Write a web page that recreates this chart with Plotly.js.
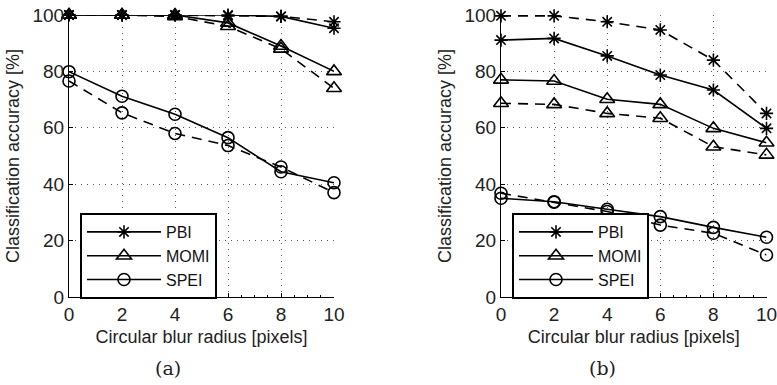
<!DOCTYPE html>
<html>
<head>
<meta charset="utf-8">
<script src="https://cdn.plot.ly/plotly-3.0.1.min.js"></script>
<style>html,body{margin:0;padding:0;background:#fff;}#chart{width:777px;height:385px;}</style>
</head>
<body>
<div id="chart"></div>
<script>
const radius = [0, 2, 4, 6, 8, 10];
const methods = ["PBI", "MOMI", "SPEI"];

// Panel (a)
const pbiA_solid   = [100, 100, 100, 100, 99.5, 95.3];
const pbiA_dashed  = [100, 100, 100, 99.7, 99.5, 97.6];
const momiA_solid  = [100, 100, 100, 97.2, 89, 80];
const momiA_dashed = [100, 100, 99.5, 96, 88, 74];
const speiA_solid  = [79.9, 71.2, 64.8, 56.5, 44.4, 40.5];
const speiA_dashed = [76.6, 65.3, 58, 53.7, 46.1, 37];

// Panel (b)
const pbiB_solid   = [91.1, 91.7, 85.5, 78.7, 73.4, 59.8];
const pbiB_dashed  = [99.7, 99.7, 97.6, 94.7, 84, 65.1];
const momiB_solid  = [77, 76.6, 70.1, 68.3, 59.8, 54.7];
const momiB_dashed = [68.7, 68.3, 65.1, 63.4, 53.3, 50.4];
const speiB_solid  = [35, 33.8, 31.1, 28.5, 24.7, 21.2];
const speiB_dashed = [36.8, 33.6, 30.3, 25.5, 22.6, 14.9];

const yTicks = [0, 20, 40, 60, 80, 100];
const xTicks = [0, 2, 4, 6, 8, 10];
const panelLabels = ["(a)", "(b)"];
const xTitle = "Circular blur radius [pixels]";
const yTitle = "Classification accuracy [%]";

const symbols = {PBI: "asterisk-open", MOMI: "triangle-up-open", SPEI: "circle-open"};
const sizes = {PBI: 11, MOMI: 13, SPEI: 12};

function tr(name, y, dashed, panel) {
  const second = panel === 2;
  return {
    x: radius, y: y, type: "scatter", mode: "lines+markers",
    name: name,
    xaxis: second ? "x2" : "x", yaxis: second ? "y2" : "y",
    legend: second ? "legend2" : "legend",
    showlegend: !dashed,
    cliponaxis: false,
    line: {color: "#000", width: 1.6, dash: dashed ? "10px,7px" : "solid"},
    marker: {symbol: symbols[name], size: sizes[name], color: "#000",
             line: {color: "#000", width: 1.6}}
  };
}

const data = [
  tr("PBI", pbiA_solid, false, 1), tr("MOMI", momiA_solid, false, 1), tr("SPEI", speiA_solid, false, 1),
  tr("PBI", pbiA_dashed, true, 1), tr("MOMI", momiA_dashed, true, 1), tr("SPEI", speiA_dashed, true, 1),
  tr("PBI", pbiB_solid, false, 2), tr("MOMI", momiB_solid, false, 2), tr("SPEI", speiB_solid, false, 2),
  tr("PBI", pbiB_dashed, true, 2), tr("MOMI", momiB_dashed, true, 2), tr("SPEI", speiB_dashed, true, 2)
];

const W = 777, H = 385;
const FAM = "Liberation Sans, Arial, Helvetica, sans-serif";
const titleFont = {family: FAM, size: 18, color: "#222"};
const tickFont = {family: FAM, size: 19, color: "#222"};
const legFont = {family: FAM, size: 16, color: "#111"};

function xax(domain, anchor) {
  return {
    domain: domain, anchor: anchor, range: [0, 10], tickvals: xTicks,
    showline: true, linecolor: "#000", linewidth: 1,
    ticks: "inside", ticklen: 4, tickcolor: "#000",
    showgrid: true, gridcolor: "#555", griddash: "1px,5px", gridwidth: 1,
    zeroline: false, tickfont: tickFont, automargin: false,
    ticklabeloverflow: "allow",
    minor: {dtick: 0.5, ticks: "inside", ticklen: 2, tickcolor: "#000", showgrid: false},
    title: {text: xTitle, font: titleFont, standoff: 6}
  };
}
function yax(domain, anchor) {
  return {
    domain: domain, anchor: anchor, range: [0, 100], tickvals: yTicks,
    showline: true, linecolor: "#000", linewidth: 1,
    ticks: "inside", ticklen: 4, tickcolor: "#000",
    showgrid: true, gridcolor: "#555", griddash: "1px,5px", gridwidth: 1,
    zeroline: false, tickfont: tickFont, automargin: false,
    ticklabeloverflow: "allow",
    title: {text: yTitle, font: titleFont, standoff: 8}
  };
}

const yDom = [1 - 297 / H, 1 - 15 / H];
const legendStyle = {
  bgcolor: "#fff", bordercolor: "#000", borderwidth: 2,
  font: legFont, xanchor: "left", yanchor: "top", tracegroupgap: 0,
  itemwidth: 74, itemclick: false
};

const layout = {
  width: W, height: H,
  margin: {l: 0, r: 0, t: 0, b: 0},
  paper_bgcolor: "#fff", plot_bgcolor: "#fff",
  font: titleFont,
  showlegend: true,
  xaxis: xax([69 / W, 334 / W], "y"),
  yaxis: yax(yDom, "x"),
  xaxis2: xax([501 / W, 766.5 / W], "y2"),
  yaxis2: yax(yDom, "x2"),
  legend: Object.assign({x: 80 / W, y: 1 - 213 / H}, legendStyle),
  legend2: Object.assign({x: 512 / W, y: 1 - 213 / H}, legendStyle),
  annotations: [
    {text: panelLabels[0], xref: "paper", yref: "paper", x: 168 / W, y: 1 - 368 / H,
     xanchor: "center", yanchor: "middle",
     showarrow: false, font: {family: "DejaVu Serif, Liberation Serif, serif", size: 19, color: "#222"}},
    {text: panelLabels[1], xref: "paper", yref: "paper", x: 602 / W, y: 1 - 368 / H,
     xanchor: "center", yanchor: "middle",
     showarrow: false, font: {family: "DejaVu Serif, Liberation Serif, serif", size: 19, color: "#222"}}
  ]
};

Plotly.newPlot("chart", data, layout, {staticPlot: true, displayModeBar: false});
</script>
</body>
</html>
